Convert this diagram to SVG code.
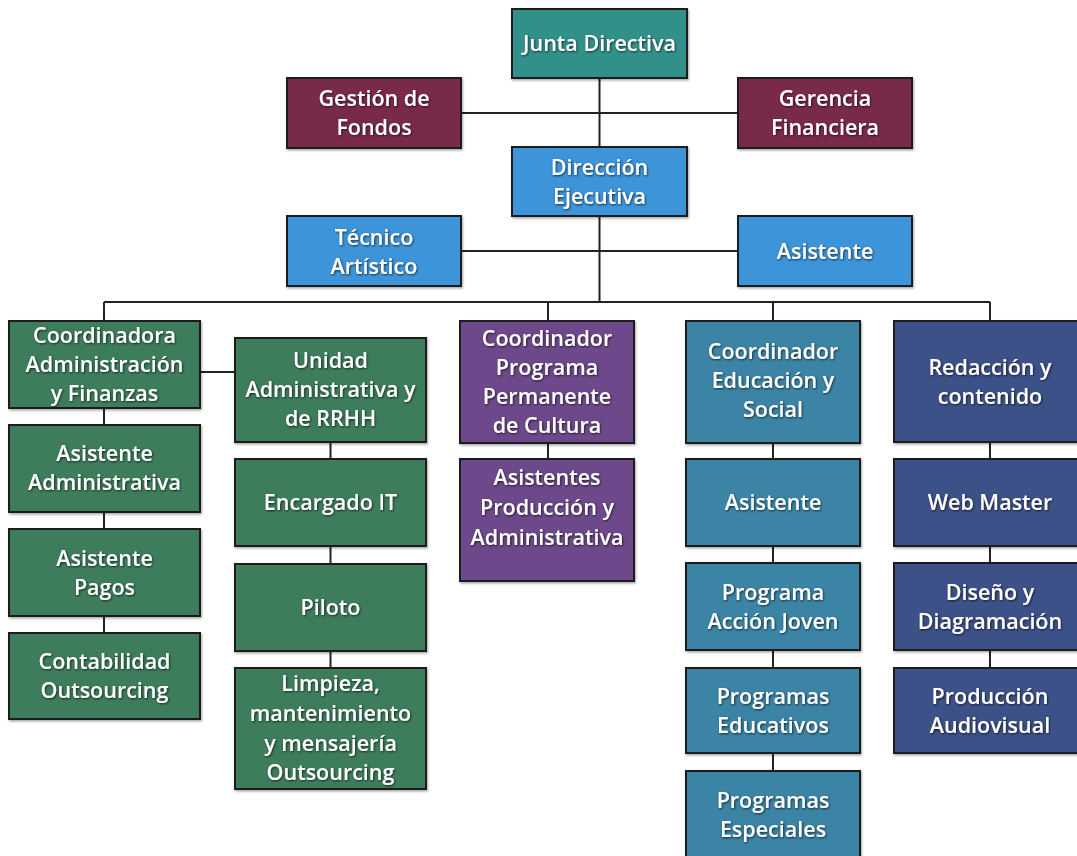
<svg xmlns="http://www.w3.org/2000/svg" width="1077" height="856" viewBox="0 0 1077 856">
<defs>
<filter id="bs" x="-10%" y="-10%" width="125%" height="125%"><feDropShadow dx="1" dy="1.5" stdDeviation="1.2" flood-color="#000" flood-opacity="0.35"/></filter>
<filter id="ts" x="-10%" y="-30%" width="120%" height="160%"><feDropShadow dx="0.8" dy="1" stdDeviation="0.9" flood-color="#000" flood-opacity="0.7"/></filter>
<style>
rect{stroke:#1b1b1b;stroke-width:2;filter:url(#bs)}
text{font-family:"Open Sans","Noto Sans",sans-serif;font-size:21.5px;font-weight:600;fill:#fff;text-anchor:middle;filter:url(#ts)}
.ln{stroke:#222;stroke-width:2;fill:none}
.teal{fill:#32908a}.mar{fill:#7a2b49}.lb{fill:#3d94d9}.gr{fill:#3c7d5c}.pu{fill:#6d4a8b}.tb{fill:#3a84a6}.db{fill:#3c5189}
</style>
</defs>
<rect width="1077" height="856" fill="#fff" style="stroke:none;filter:none"/>
<g id="connectors">
<path class="ln" d="M599.5 78V147M461 113H738M599.5 216V302M461 251H738"/>
<path class="ln" d="M104 302H990M104 302V321M548 302V321M773 302V321M990 302V321"/>
<path class="ln" d="M104 408V425M104 512V529M104 616V633M200 372H235"/>
<path class="ln" d="M330.5 442V459M330.5 546V564M330.5 651V668"/>
<path class="ln" d="M548 443V459"/>
<path class="ln" d="M773 443V459M773 546V563M773 650V668M773 753V771"/>
<path class="ln" d="M990 442V459M990 546V563M990 650V668"/>
</g>
<g id="junta"><rect class="teal" x="512" y="9" width="175" height="69"/><text x="599.5" y="51">Junta Directiva</text></g>
<g id="gestion"><rect class="mar" x="287" y="78" width="174" height="70"/><text x="374" y="106">Gestión de</text><text x="374" y="135">Fondos</text></g>
<g id="gerencia"><rect class="mar" x="738" y="78" width="174" height="70"/><text x="825" y="106">Gerencia</text><text x="825" y="135">Financiera</text></g>
<g id="direccion"><rect class="lb" x="512" y="147" width="175" height="69"/><text x="599.5" y="175">Dirección</text><text x="599.5" y="204">Ejecutiva</text></g>
<g id="tecnico"><rect class="lb" x="287" y="216" width="174" height="70"/><text x="374" y="245">Técnico</text><text x="374" y="274">Artístico</text></g>
<g id="asistente-top"><rect class="lb" x="738" y="216" width="174" height="70"/><text x="825" y="259">Asistente</text></g>
<g id="coord-admin"><rect class="gr" x="9" y="321" width="191" height="87"/><text x="104.5" y="343">Coordinadora</text><text x="104.5" y="372">Administración</text><text x="104.5" y="401">y Finanzas</text></g>
<g id="asist-admin"><rect class="gr" x="9" y="425" width="191" height="87"/><text x="104.5" y="461">Asistente</text><text x="104.5" y="490">Administrativa</text></g>
<g id="asist-pagos"><rect class="gr" x="9" y="529" width="191" height="87"/><text x="104.5" y="566">Asistente</text><text x="104.5" y="595">Pagos</text></g>
<g id="contabilidad"><rect class="gr" x="9" y="633" width="191" height="86"/><text x="104.5" y="669">Contabilidad</text><text x="104.5" y="698">Outsourcing</text></g>
<g id="unidad"><rect class="gr" x="235" y="338" width="191" height="104"/><text x="330.5" y="368">Unidad</text><text x="330.5" y="397">Administrativa y</text><text x="330.5" y="426">de RRHH</text></g>
<g id="encargado"><rect class="gr" x="235" y="459" width="191" height="87"/><text x="330.5" y="510">Encargado IT</text></g>
<g id="piloto"><rect class="gr" x="235" y="564" width="191" height="87"/><text x="330.5" y="615">Piloto</text></g>
<g id="limpieza"><rect class="gr" x="235" y="668" width="191" height="121"/><text x="330.5" y="691">Limpieza,</text><text x="330.5" y="721">mantenimiento</text><text x="330.5" y="751">y mensajería</text><text x="330.5" y="780">Outsourcing</text></g>
<g id="coord-cultura"><rect class="pu" x="460" y="321" width="174" height="122"/><text x="547" y="346">Coordinador</text><text x="547" y="375">Programa</text><text x="547" y="404">Permanente</text><text x="547" y="433">de Cultura</text></g>
<g id="asist-produccion"><rect class="pu" x="460" y="459" width="174" height="122"/><text x="547" y="485">Asistentes</text><text x="547" y="515">Producción y</text><text x="547" y="545">Administrativa</text></g>
<g id="coord-educacion"><rect class="tb" x="686" y="321" width="174" height="122"/><text x="773" y="359">Coordinador</text><text x="773" y="388">Educación y</text><text x="773" y="417">Social</text></g>
<g id="asist-educacion"><rect class="tb" x="686" y="459" width="174" height="87"/><text x="773" y="510">Asistente</text></g>
<g id="accion-joven"><rect class="tb" x="686" y="563" width="174" height="87"/><text x="773" y="600">Programa</text><text x="773" y="629">Acción Joven</text></g>
<g id="educativos"><rect class="tb" x="686" y="668" width="174" height="85"/><text x="773" y="704">Programas</text><text x="773" y="733">Educativos</text></g>
<g id="especiales"><rect class="tb" x="686" y="771" width="174" height="87"/><text x="773" y="808">Programas</text><text x="773" y="837">Especiales</text></g>
<g id="redaccion"><rect class="db" x="894" y="321" width="192" height="121"/><text x="990" y="375">Redacción y</text><text x="990" y="404">contenido</text></g>
<g id="webmaster"><rect class="db" x="894" y="459" width="192" height="87"/><text x="990" y="510">Web Master</text></g>
<g id="diseno"><rect class="db" x="894" y="563" width="192" height="87"/><text x="990" y="600">Diseño y</text><text x="990" y="629">Diagramación</text></g>
<g id="produccion-av"><rect class="db" x="894" y="668" width="192" height="85"/><text x="990" y="704">Producción</text><text x="990" y="733">Audiovisual</text></g>
</svg>
